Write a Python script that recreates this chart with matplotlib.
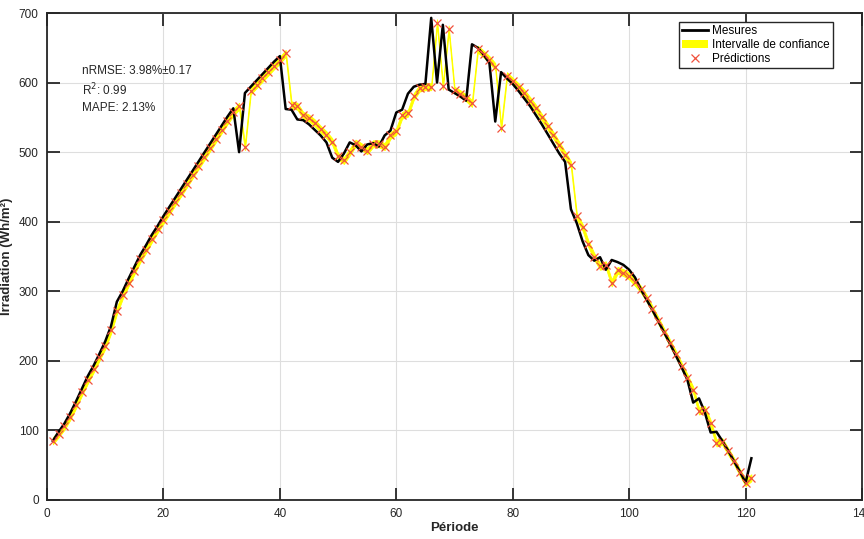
import numpy as np
import matplotlib
matplotlib.use("Agg")
import matplotlib.pyplot as plt
from matplotlib.patches import Patch
from matplotlib.lines import Line2D

plt.rcParams['font.family'] = ['Liberation Sans', 'DejaVu Sans']

periods = list(range(1, 122))

mesures = [
    85, 98, 110, 125, 142, 160, 178, 193, 210, 228,
    250, 285, 300, 318, 335, 352, 366, 381, 394, 408,
    421, 434, 447, 460, 473, 486, 499, 512, 525, 538,
    551, 563, 500, 585, 594, 603, 612, 621, 630, 638,
    562, 561, 547, 546, 540, 532, 524, 514, 492, 486,
    498, 514, 510, 501, 511, 513, 508, 524, 531, 557,
    561, 584, 594, 597, 598, 693, 600, 683, 590, 585,
    580, 574, 655, 650, 640, 628, 544, 615, 606, 598,
    588, 577, 566, 553, 540, 526, 512, 498, 486, 418,
    398, 372, 352, 344, 349, 331, 345, 342, 338, 331,
    320, 303, 288, 273, 257, 241, 225, 208, 191, 173,
    140, 146, 126, 97, 98, 85, 71, 56, 41, 25,
    60,
]

predictions = [
    85, 95, 106, 120, 137, 155, 172, 188, 205, 222,
    244, 272, 294, 312, 329, 346, 360, 375, 389, 402,
    415, 428, 441, 454, 467, 480, 493, 506, 519, 532,
    545, 557, 566, 508, 588, 597, 606, 615, 624, 632,
    642, 568, 566, 553, 549, 542, 533, 525, 515, 494,
    488, 500, 513, 508, 502, 512, 512, 508, 524, 530,
    553, 556, 580, 592, 594, 594, 686, 595, 677, 589,
    584, 578, 570, 648, 641, 633, 623, 535, 610, 602,
    594, 585, 574, 563, 550, 537, 524, 510, 496, 482,
    408, 392, 368, 350, 336, 338, 312, 330, 327, 322,
    313, 303, 290, 274, 258, 242, 226, 210, 193, 176,
    158, 128, 130, 110, 82, 84, 70, 56, 40, 25,
    32,
]

ci_half = 5  # half width of confidence interval (Wh/m²)

x = np.array(periods)
y_meas = np.array(mesures)
y_pred = np.array(predictions)

fig = plt.figure(figsize=(8.64, 5.39), dpi=100)
ax = fig.add_axes([47/864, 39/539, 815/864, 487/539])

ax.fill_between(x, y_pred - ci_half, y_pred + ci_half, color='#ffff00',
                linewidth=0.6, edgecolor='#ffff00', zorder=2)
ax.plot(x, y_meas, color='black', linewidth=1.8, zorder=3)
ax.plot(x, y_pred, linestyle='none', marker='x', color='#f0503c',
        markersize=6, markeredgewidth=0.9, zorder=4)

ax.set_xlim(0, 140)
ax.set_ylim(0, 700)
ax.set_xticks(np.arange(0, 141, 20))
ax.set_yticks(np.arange(0, 701, 100))
ax.grid(True, color='#dedede', linewidth=0.8, zorder=0)
ax.set_axisbelow(True)

ax.tick_params(direction='in', length=9, width=1.3, top=True, right=True,
               labelsize=8.5, colors='#262626', pad=6)
for s in ax.spines.values():
    s.set_color('#262626')
    s.set_linewidth(1.3)

ax.set_xlabel('Période', fontsize=9.5, fontweight='bold', color='#262626', labelpad=1)
ax.set_ylabel('Irradiation (Wh/m²)', fontsize=9.5, fontweight='bold', color='#262626', labelpad=4)

ax.text(0.043, 0.881, 'nRMSE: 3.98%±0.17', transform=ax.transAxes,
        fontsize=8.5, va='center', color='#262626')
ax.text(0.043, 0.842, 'R$^2$: 0.99', transform=ax.transAxes,
        fontsize=8.5, va='center', color='#262626')
ax.text(0.043, 0.805, 'MAPE: 2.13%', transform=ax.transAxes,
        fontsize=8.5, va='center', color='#262626')

handles = [
    Line2D([], [], color='black', linewidth=2),
    Patch(facecolor='#ffff00', edgecolor='none'),
    Line2D([], [], linestyle='none', marker='x', color='#f0503c',
           markersize=6, markeredgewidth=0.9),
]
leg = ax.legend(handles, ['Mesures', 'Intervalle de confiance', 'Prédictions'],
                loc='upper right', bbox_to_anchor=(0.9644, 0.982),
                borderaxespad=0, fontsize=8.5, fancybox=False, framealpha=1,
                edgecolor='#262626', handlelength=2.2, handletextpad=0.3,
                labelspacing=0.15, borderpad=0.3)
leg.get_frame().set_linewidth(1.0)

plt.savefig('out.png', dpi=100)
